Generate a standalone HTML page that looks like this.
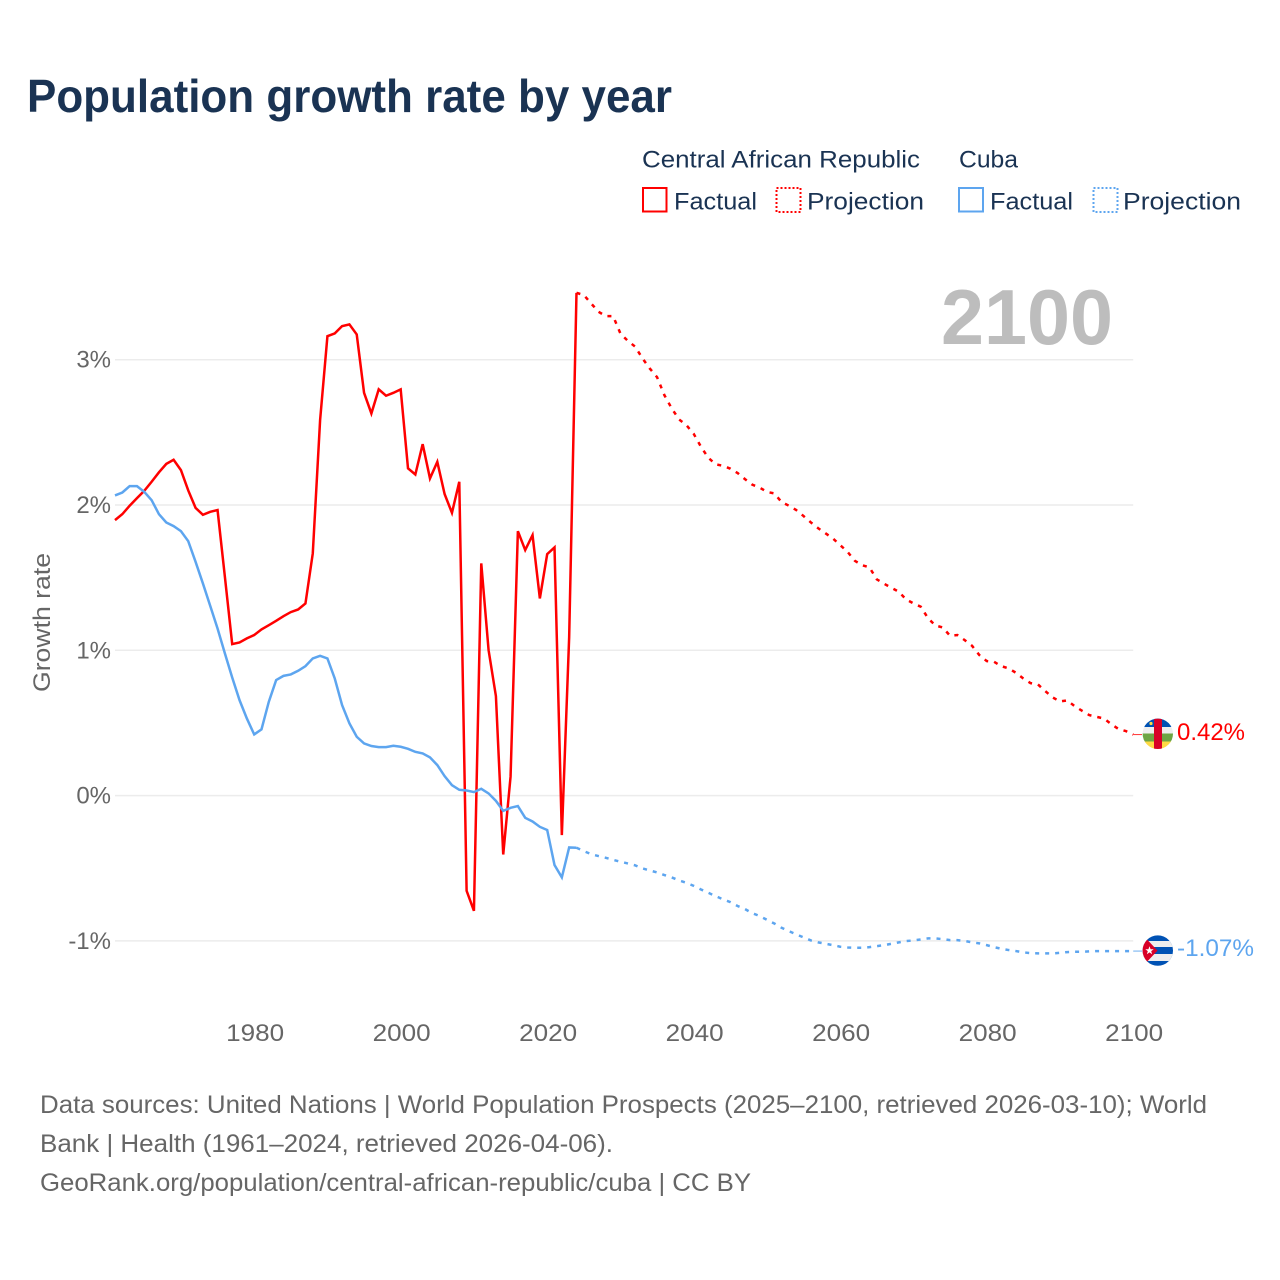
<!DOCTYPE html>
<html lang="en">
<head>
<meta charset="utf-8">
<title>Population growth rate by year</title>
<style>
  html, body { margin: 0; padding: 0; background: #fff; }
  svg { display: block; font-family: "Liberation Sans", sans-serif; }
</style>
</head>
<body>
<svg id="chart" xmlns="http://www.w3.org/2000/svg" width="1280" height="1280" viewBox="0 0 1280 1280">
  <defs>
    <clipPath id="clip-car"><circle cx="1157.8" cy="733.8" r="15.2"/></clipPath>
    <clipPath id="clip-cuba"><circle cx="1157.8" cy="950.6" r="15.2"/></clipPath>
  </defs>
  <rect width="1280" height="1280" fill="#fff"/>

  <text x="27" y="112" font-size="46" font-weight="700" fill="#1a3353" textLength="645" lengthAdjust="spacingAndGlyphs">Population growth rate by year</text>

  <g font-size="24.5" fill="#1a3353">
    <text x="642" y="167.5" textLength="278" lengthAdjust="spacingAndGlyphs">Central African Republic</text>
    <text x="959" y="167.5" textLength="59" lengthAdjust="spacingAndGlyphs">Cuba</text>
    <rect x="643" y="188" width="23.5" height="23.5" fill="none" stroke="#ff0000" stroke-width="2"/>
    <text x="674" y="209.5" textLength="83" lengthAdjust="spacingAndGlyphs">Factual</text>
    <rect x="776.5" y="188" width="24" height="24" fill="none" stroke="#ff0000" stroke-width="2" stroke-dasharray="2 2"/>
    <text x="807" y="209.5" textLength="117" lengthAdjust="spacingAndGlyphs">Projection</text>
    <rect x="959" y="188" width="24" height="23.5" fill="none" stroke="#5da5ef" stroke-width="2"/>
    <text x="990" y="209.5" textLength="83" lengthAdjust="spacingAndGlyphs">Factual</text>
    <rect x="1093.5" y="188" width="24" height="24" fill="none" stroke="#5da5ef" stroke-width="2" stroke-dasharray="2 2"/>
    <text x="1123" y="209.5" textLength="118" lengthAdjust="spacingAndGlyphs">Projection</text>
  </g>

  <g id="grid"></g>

  <text x="941" y="344" font-size="78" font-weight="700" fill="#bdbdbd" textLength="172" lengthAdjust="spacingAndGlyphs">2100</text>

  <g id="y-ticks"></g>
  <g id="x-ticks"></g>

  <text transform="translate(50,692) rotate(-90)" font-size="24" fill="#666666" textLength="139" lengthAdjust="spacingAndGlyphs">Growth rate</text>

  <g id="series"></g>

  <g clip-path="url(#clip-car)">
    <rect x="1142" y="718" width="32" height="9" fill="#0052b4"/>
    <rect x="1142" y="727" width="32" height="6.5" fill="#eeeeee"/>
    <rect x="1142" y="733.5" width="32" height="8" fill="#6da544"/>
    <rect x="1142" y="741.5" width="32" height="8" fill="#ffda44"/>
    <rect x="1154" y="718" width="8" height="32" fill="#d80027"/>
    <circle cx="1151" cy="723.5" r="1.6" fill="#ffda44"/>
  </g>
  <g clip-path="url(#clip-cuba)">
    <rect x="1142" y="935" width="32" height="32" fill="#0052b4"/>
    <rect x="1142" y="941" width="32" height="6" fill="#eeeeee"/>
    <rect x="1142" y="954" width="32" height="7" fill="#eeeeee"/>
    <polygon points="1142,934 1157.5,950.6 1142,967" fill="#d80027"/>
    <polygon points="1149.5,946.2 1150.6,949.2 1153.7,949.2 1151.2,951.1 1152.1,954.2 1149.5,952.4 1146.9,954.2 1147.8,951.1 1145.3,949.2 1148.4,949.2" fill="#ffffff"/>
  </g>

  <text x="1177" y="740" font-size="24" fill="#ff0000" textLength="68" lengthAdjust="spacingAndGlyphs">0.42%</text>
  <text x="1177" y="956" font-size="24" fill="#5da5ef" textLength="77" lengthAdjust="spacingAndGlyphs">-1.07%</text>

  <g font-size="25" fill="#666666">
    <text x="40" y="1113" textLength="1167" lengthAdjust="spacingAndGlyphs">Data sources: United Nations | World Population Prospects (2025–2100, retrieved 2026-03-10); World</text>
    <text x="40" y="1152" textLength="573" lengthAdjust="spacingAndGlyphs">Bank | Health (1961–2024, retrieved 2026-04-06).</text>
    <text x="40" y="1191" textLength="711" lengthAdjust="spacingAndGlyphs">GeoRank.org/population/central-african-republic/cuba | CC BY</text>
  </g>
</svg>
<script>
const factualStartYear = 1961;
const projectionStartYear = 2024;
const xTickYears = [1980, 2000, 2020, 2040, 2060, 2080, 2100];
const yTickValues = [-1, 0, 1, 2, 3];
const yTickLabels = ["-1%", "0%", "1%", "2%", "3%"];

const carFactual = [
  1.896, 1.937, 1.995, 2.047, 2.098, 2.16, 2.225, 2.283, 2.311, 2.24,
  2.10, 1.98, 1.933, 1.953, 1.965, 1.506, 1.043, 1.054, 1.082, 1.105,
  1.144, 1.173, 1.203, 1.235, 1.263, 1.281, 1.322, 1.667, 2.585, 3.162,
  3.181, 3.231, 3.243, 3.174, 2.772, 2.63, 2.796, 2.752, 2.772, 2.796,
  2.252, 2.21, 2.419, 2.183, 2.297, 2.075, 1.946, 2.16, -0.655, -0.793,
  1.598, 1.001, 0.685, -0.405, 0.13, 1.82, 1.69, 1.793, 1.357, 1.662,
  1.708, -0.272, 1.09, 3.46
];
const carProjection = [
  3.46, 3.445, 3.387, 3.33, 3.30, 3.30, 3.18, 3.13, 3.09, 3.01,
  2.94, 2.88, 2.756, 2.665, 2.589, 2.55, 2.49, 2.40, 2.325, 2.28,
  2.27, 2.25, 2.22, 2.178, 2.14, 2.12, 2.09, 2.08, 2.02, 1.995,
  1.965, 1.924, 1.88, 1.84, 1.805, 1.77, 1.724, 1.678, 1.616, 1.586,
  1.57, 1.488, 1.458, 1.43, 1.403, 1.35, 1.323, 1.30, 1.22, 1.171,
  1.157, 1.10, 1.105, 1.07, 1.031, 0.967, 0.926, 0.921, 0.891, 0.875,
  0.845, 0.806, 0.774, 0.765, 0.719, 0.676, 0.648, 0.655, 0.616, 0.584,
  0.554, 0.542, 0.531, 0.492, 0.458, 0.444, 0.42
];
const cubaFactual = [
  2.066, 2.086, 2.13, 2.13, 2.09, 2.033, 1.937, 1.88, 1.855, 1.82,
  1.751, 1.609, 1.46, 1.306, 1.15, 0.979, 0.813, 0.657, 0.531, 0.421,
  0.456, 0.646, 0.795, 0.824, 0.834, 0.859, 0.891, 0.944, 0.962, 0.944,
  0.806, 0.623, 0.497, 0.405, 0.359, 0.341, 0.334, 0.334, 0.343, 0.336,
  0.322, 0.301, 0.29, 0.263, 0.21, 0.134, 0.072, 0.04, 0.035, 0.024,
  0.047, 0.015, -0.036, -0.105, -0.084, -0.072, -0.153, -0.178, -0.215, -0.237,
  -0.478, -0.563, -0.357, -0.359
];
const cubaProjection = [
  -0.359, -0.382, -0.403, -0.416, -0.428, -0.442, -0.455, -0.467, -0.48, -0.501,
  -0.515, -0.529, -0.547, -0.563, -0.584, -0.60, -0.621, -0.646, -0.669, -0.692,
  -0.714, -0.733, -0.76, -0.781, -0.809, -0.829, -0.855, -0.88, -0.91, -0.933,
  -0.955, -0.976, -0.997, -1.01, -1.02, -1.029, -1.04, -1.045, -1.047, -1.047,
  -1.043, -1.036, -1.029, -1.02, -1.01, -1.001, -0.997, -0.99, -0.983, -0.983,
  -0.988, -0.995, -0.995, -1.0, -1.01, -1.017, -1.029, -1.043, -1.054, -1.063,
  -1.07, -1.079, -1.084, -1.086, -1.086, -1.086, -1.082, -1.077, -1.075, -1.075,
  -1.072, -1.07, -1.07, -1.07, -1.07, -1.07, -1.07
];

const SVG_NS = "http://www.w3.org/2000/svg";
const RED = "#ff0000";
const BLUE = "#5da5ef";
const GREY = "#666666";
const CONNECTOR_END_X = 1142;
const TICK_LABEL_NUDGE = 1;

function xScale(year) {
  return 115 + (year - 1961) * (1133.2 - 115) / (2100 - 1961);
}
function yScale(value) {
  return 795.6 - value * 145.3;
}
function pathFrom(values, startYear) {
  return values.map(function (v, i) {
    return (i ? "L" : "M") + xScale(startYear + i).toFixed(2) + " " + yScale(v).toFixed(2);
  }).join(" ");
}
function make(tag, parent, attrs) {
  const el = document.createElementNS(SVG_NS, tag);
  Object.keys(attrs).forEach(function (k) { el.setAttribute(k, attrs[k]); });
  parent.appendChild(el);
  return el;
}

const gridGroup = document.getElementById("grid");
const yTickGroup = document.getElementById("y-ticks");
const xTickGroup = document.getElementById("x-ticks");
const seriesGroup = document.getElementById("series");

yTickValues.forEach(function (v, i) {
  const line = make("line", gridGroup, {
    x1: xScale(1961), x2: xScale(2100), y1: yScale(v), y2: yScale(v),
    stroke: "#ececec", "stroke-width": 1.5
  });
  
  

  const label = make("text", yTickGroup, {
    x: 111, y: yScale(v) + 8, "text-anchor": "end", "font-size": 24, fill: GREY
  });
  
  
  label.textContent = yTickLabels[i];
});

xTickYears.forEach(function (year) {
  const label = make("text", xTickGroup, {
    x: xScale(year) + TICK_LABEL_NUDGE, y: 1041, "text-anchor": "middle", "font-size": 24.5, fill: GREY,
    textLength: 58, lengthAdjust: "spacingAndGlyphs"
  });
  
  
  label.textContent = String(year);
});

const carFactualLine = make("path", seriesGroup, {
  d: pathFrom(carFactual, factualStartYear), fill: "none", stroke: RED, "stroke-width": 2.5
});



const cubaFactualLine = make("path", seriesGroup, {
  d: pathFrom(cubaFactual, factualStartYear), fill: "none", stroke: BLUE, "stroke-width": 2.5
});



const carProjectionLine = make("path", seriesGroup, {
  d: pathFrom(carProjection, projectionStartYear), fill: "none", stroke: RED,
  "stroke-width": 2.5, "stroke-dasharray": "4 6"
});



const cubaProjectionLine = make("path", seriesGroup, {
  d: pathFrom(cubaProjection, projectionStartYear), fill: "none", stroke: BLUE,
  "stroke-width": 2.5, "stroke-dasharray": "4 6"
});



const carConnector = make("line", seriesGroup, {
  x1: xScale(2100), x2: CONNECTOR_END_X,
  y1: yScale(carProjection[carProjection.length - 1]),
  y2: yScale(carProjection[carProjection.length - 1]),
  stroke: RED, "stroke-width": 1, opacity: 0.8
});



const cubaConnector = make("line", seriesGroup, {
  x1: xScale(2100), x2: CONNECTOR_END_X,
  y1: yScale(cubaProjection[cubaProjection.length - 1]),
  y2: yScale(cubaProjection[cubaProjection.length - 1]),
  stroke: BLUE, "stroke-width": 1, opacity: 0.9
});


</script>
</body>
</html>
